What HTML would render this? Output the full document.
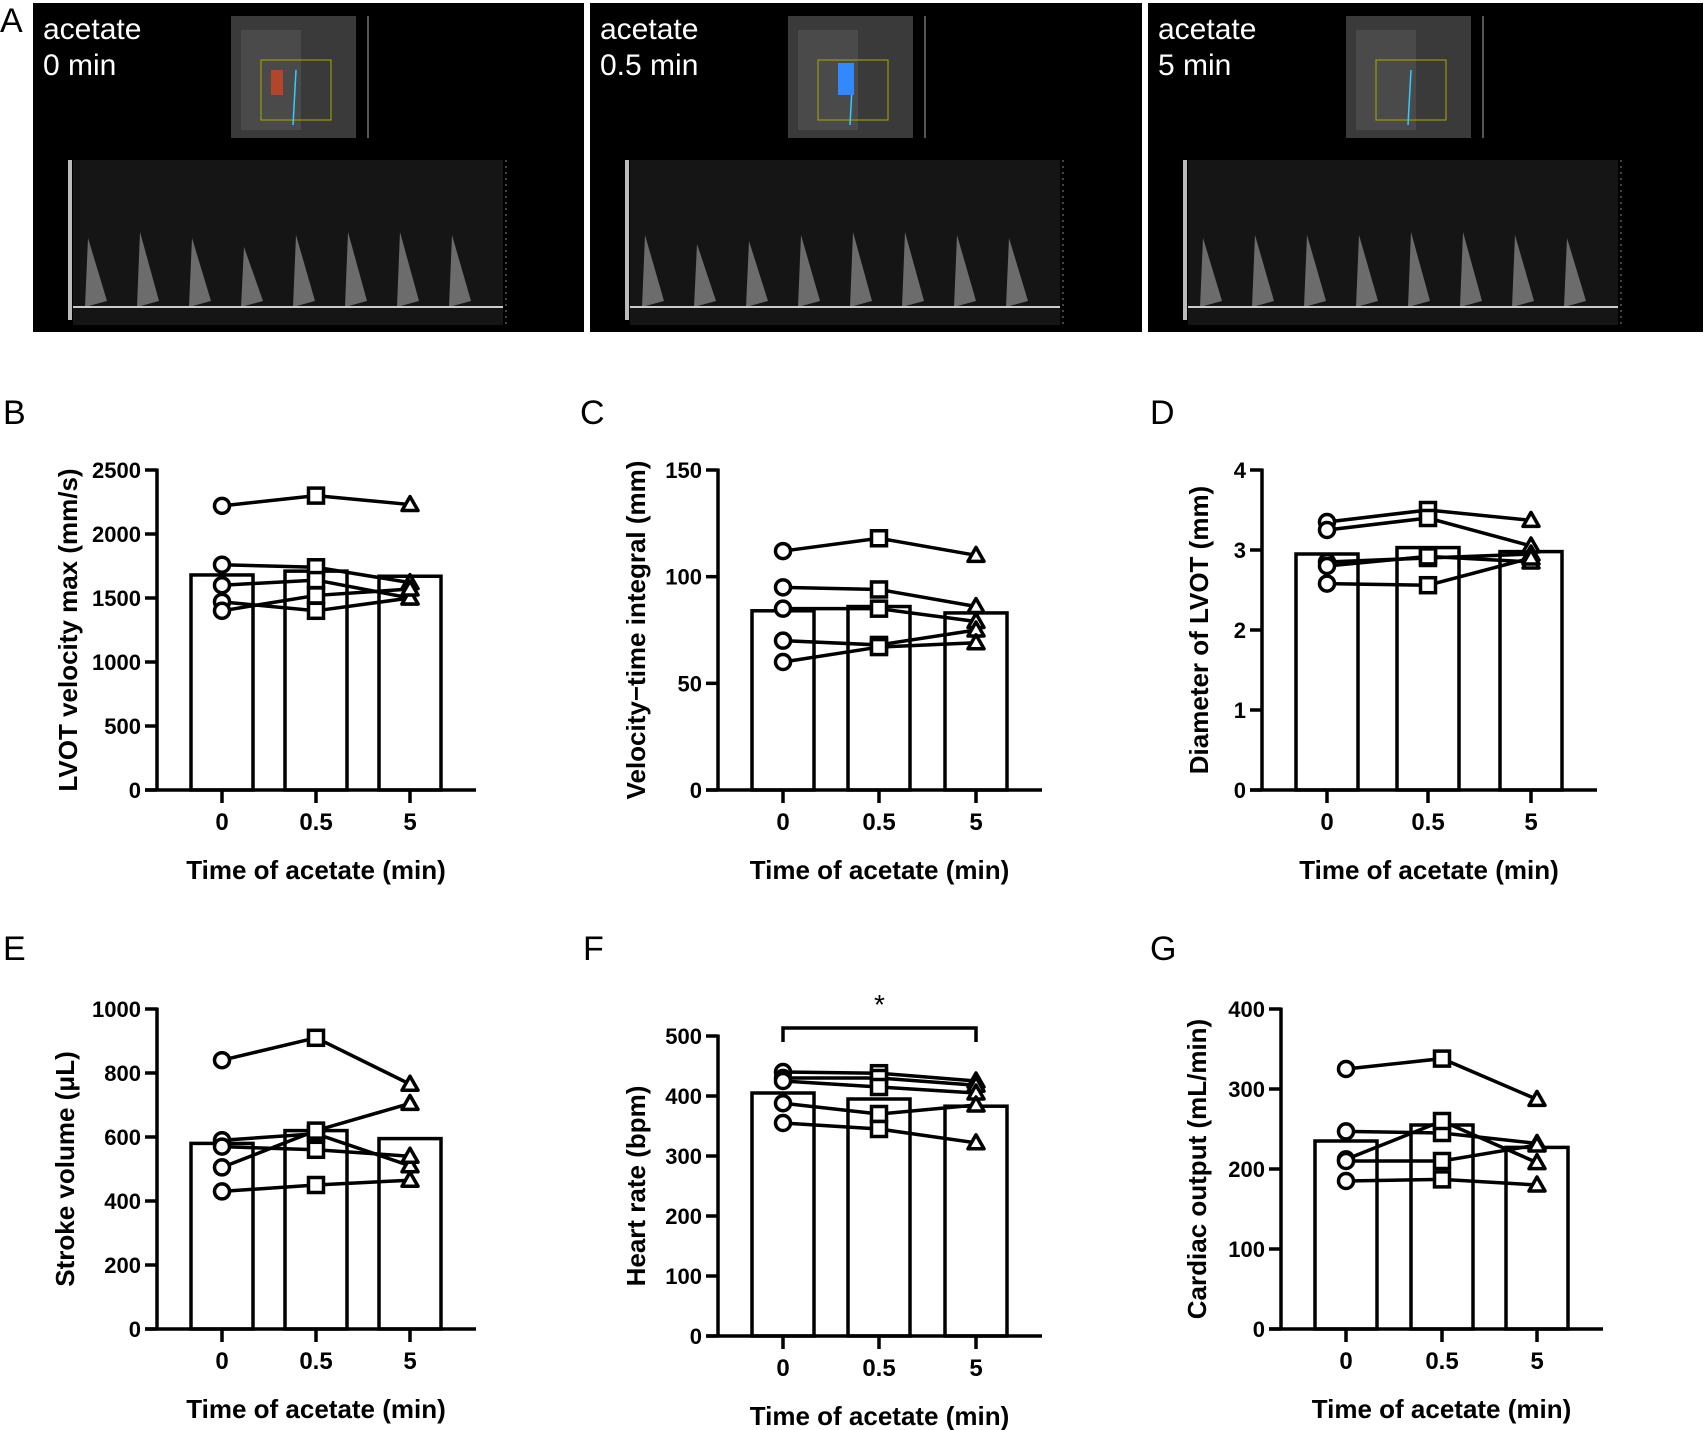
<!DOCTYPE html>
<html><head><meta charset="utf-8">
<style>
html,body{margin:0;padding:0;background:#fff;}
svg{display:block;}
text{font-family:"Liberation Sans",Arial,sans-serif;}
</style></head>
<body>
<svg id="fig" width="1705" height="1430" viewBox="0 0 1705 1430" xmlns="http://www.w3.org/2000/svg">
<g id="panelA"></g>
<g id="charts"></g>
</svg>
<script>
// ---------- Chart data ----------
const categories = ["0", "0.5", "5"];
const bMeans = [1680, 1710, 1670];
const bSeries = [[2220,2300,2230],[1760,1740,1620],[1600,1640,1500],[1470,1400,1500],[1400,1520,1570]];
const bTicks = [0,500,1000,1500,2000,2500];
const cMeans = [84, 86, 83];
const cSeries = [[112,118,110],[95,94,86],[85,85,79],[70,68,75],[60,67,69]];
const cTicks = [0,50,100,150];
const dMeans = [2.95, 3.03, 2.98];
const dSeries = [[3.35,3.5,3.37],[3.25,3.4,3.05],[2.85,2.9,2.95],[2.8,2.92,2.85],[2.58,2.56,2.9]];
const dTicks = [0,1,2,3,4];
const eMeans = [580, 620, 595];
const eSeries = [[840,910,765],[590,610,510],[570,560,540],[505,620,705],[430,450,465]];
const eTicks = [0,200,400,600,800,1000];
const fMeans = [405, 395, 383];
const fSeries = [[440,438,425],[430,430,418],[425,415,405],[388,370,385],[355,345,322]];
const fTicks = [0,100,200,300,400,500];
const gMeans = [235, 255, 227];
const gSeries = [[325,338,287],[247,245,232],[212,260,208],[210,210,230],[185,187,180]];
const gTicks = [0,100,200,300,400];
const pulsePeaks = [[1150,1250,1150,1000,1200,1250,1250,1200],[1200,1050,1100,1200,1250,1250,1200,1150],[1150,1200,1200,1200,1250,1250,1200,1150]];

const NS = "http://www.w3.org/2000/svg";
function mk(tag, attrs, parent, txt){
  const e = document.createElementNS(NS, tag);
  for (const k in attrs) e.setAttribute(k, attrs[k]);
  if (txt !== undefined) e.textContent = txt;
  parent.appendChild(e);
  return e;
}

// ---------- Panel A ----------
const pa = document.getElementById('panelA');
const lA = mk('text',{x:0,y:32,'font-size':34,fill:'#000'},pa,'A');


const boxes = [[33,584,'0 min'],[590,1142,'0.5 min'],[1148,1703,'5 min']];
boxes.forEach((b,i)=>{
  const g = mk('g',{},pa);
  
  
  mk('rect',{x:b[0],y:3,width:b[1]-b[0],height:329,fill:'#000'},g);
  const t1 = mk('text',{x:b[0]+10,y:39,'font-size':30,fill:'#fff'},g,'acetate');
  
  
  const t2 = mk('text',{x:b[0]+10,y:75,'font-size':30,fill:'#fff'},g,b[2]);
  
  
  const ix = b[0]+198;
  mk('rect',{x:ix,y:16,width:125,height:122,fill:'#3a3a3a'},g);
  mk('rect',{x:ix+10,y:30,width:60,height:100,fill:'#555',opacity:0.6},g);
  mk('rect',{x:ix+30,y:60,width:70,height:60,fill:'none',stroke:'#aa0','stroke-width':1},g);
  mk('line',{x1:ix+65,y1:70,x2:ix+62,y2:125,stroke:'#3cf','stroke-width':1.5},g);
  if(i==0) mk('rect',{x:ix+40,y:70,width:12,height:25,fill:'#c42',opacity:0.8},g);
  if(i==1) mk('rect',{x:ix+50,y:63,width:16,height:32,fill:'#38f'},g);
  mk('line',{x1:ix+137,y1:16,x2:ix+137,y2:138,stroke:'#aaa','stroke-width':1},g);
  const sx = b[0]+40, sw = 430, base = 307, top = 160;
  mk('rect',{x:sx,y:top,width:sw,height:165,fill:'#151515'},g);
  mk('rect',{x:sx-5,y:top,width:4,height:160,fill:'#bbb'},g);
  const vy = v => base - v*(base-top)/2450;
  pulsePeaks[i].forEach((p,k)=>{
    const px = sx + 12 + k*52;
    mk('path',{d:`M${px} ${base} L${px+3} ${vy(p)} L${px+22} ${base-6} Z`,fill:'#8a8a8a',opacity:0.75},g);
  });
  mk('line',{x1:sx,y1:base,x2:sx+sw,y2:base,stroke:'#ccc','stroke-width':2},g);
  mk('line',{x1:sx+sw+3,y1:top,x2:sx+sw+3,y2:325,stroke:'#888','stroke-width':1,'stroke-dasharray':'2 4'},g);
});

// ---------- Bar/line charts ----------
const charts = document.getElementById('charts');
function chart(opt){
  const g = mk('g',{},charts);
  
  
  const cx = opt.cats;
  const ax = cx[0]-65, axEnd = cx[2]+66;
  const yMax = opt.ticks[opt.ticks.length-1];
  const Y = v => opt.y0 - v*(opt.y0-opt.yTop)/yMax;
  const X = i => cx[i];
  const lab = mk('text',{x:opt.lx,y:opt.ly,'font-size':34,fill:'#000'},g,opt.letter);
  
  
  opt.means.forEach((m,i)=>{
    const r = mk('rect',{x:X(i)-31,y:Y(m),width:62,height:opt.y0-Y(m),fill:'#fff',stroke:'#000','stroke-width':3.5},g);
    
    
  });
  const ya = mk('line',{x1:ax,y1:Y(yMax)-1.5,x2:ax,y2:opt.y0,stroke:'#000','stroke-width':3.5},g);
  
  
  const xa = mk('line',{x1:ax-12,y1:opt.y0,x2:axEnd,y2:opt.y0,stroke:'#000','stroke-width':3.5},g);
  
  
  opt.ticks.forEach(t=>{
    mk('line',{x1:ax-12,y1:Y(t),x2:ax,y2:Y(t),stroke:'#000','stroke-width':3.5},g);
    const tl = mk('text',{x:ax-16,y:Y(t)+8,'font-size':22,'font-weight':'bold','text-anchor':'end'},g,String(t));
    
    
  });
  categories.forEach((c,i)=>{
    mk('line',{x1:X(i),y1:opt.y0,x2:X(i),y2:opt.y0+13,stroke:'#000','stroke-width':3.5},g);
    const tl = mk('text',{x:X(i),y:opt.y0+40,'font-size':24,'font-weight':'bold','text-anchor':'middle'},g,c);
    
    
  });
  const xt = mk('text',{x:(cx[0]+cx[2])/2,y:opt.y0+89,'font-size':26,'font-weight':'bold','text-anchor':'middle'},g,'Time of acetate (min)');
  
  
  const ymid = (opt.y0+Y(yMax))/2;
  const yt = mk('text',{x:opt.ytx,y:ymid,'font-size':26,'font-weight':'bold','text-anchor':'middle',transform:`rotate(-90 ${opt.ytx} ${ymid})`,'dominant-baseline':'middle'},g,opt.ytitle);
  
  
  opt.series.forEach((s,k)=>{
    const sg = mk('g',{},g);
    
    
    mk('polyline',{points:s.map((v,i)=>X(i)+','+Y(v)).join(' '),fill:'none',stroke:'#000','stroke-width':3.5},sg);
    const c = mk('circle',{cx:X(0),cy:Y(s[0]),r:7.5,fill:'#fff',stroke:'#000','stroke-width':3.5},sg);
    
    
    const q = mk('rect',{x:X(1)-7.5,y:Y(s[1])-7.5,width:15,height:15,fill:'#fff',stroke:'#000','stroke-width':3.5},sg);
    
    
    const tx = X(2), ty = Y(s[2]);
    const tr = mk('path',{d:`M${tx} ${ty-8} L${tx+8} ${ty+6} L${tx-8} ${ty+6} Z`,fill:'#fff',stroke:'#000','stroke-width':3.5,'stroke-linejoin':'round'},sg);
    
    
  });
  if (opt.sig){
    const by = opt.yTop - 8;
    const br = mk('path',{d:`M${X(0)} ${by+14} L${X(0)} ${by} L${X(2)} ${by} L${X(2)} ${by+14}`,fill:'none',stroke:'#000','stroke-width':3.5},g);
    
    
    const st = mk('text',{x:(X(0)+X(2))/2,y:by-14,'font-size':28,'text-anchor':'middle'},g,'*');
    
    
  }
}
chart({name:'chart-b-lvot-velocity',letter:'B',lx:3,ly:424,cats:[222,316,410],y0:790,yTop:470,ticks:bTicks,means:bMeans,series:bSeries,ytitle:'LVOT velocity max (mm/s)',ytx:70});
chart({name:'chart-c-vti',letter:'C',lx:580,ly:424,cats:[783,879,976],y0:790,yTop:470,ticks:cTicks,means:cMeans,series:cSeries,ytitle:'Velocity\u2212time integral (mm)',ytx:638});
chart({name:'chart-d-lvot-diameter',letter:'D',lx:1150,ly:424,cats:[1327,1428,1531],y0:790,yTop:470,ticks:dTicks,means:dMeans,series:dSeries,ytitle:'Diameter of LVOT (mm)',ytx:1201});
chart({name:'chart-e-stroke-volume',letter:'E',lx:3,ly:960,cats:[222,316,410],y0:1329,yTop:1009,ticks:eTicks,means:eMeans,series:eSeries,ytitle:'Stroke volume (\u03bcL)',ytx:67});
chart({name:'chart-f-heart-rate',letter:'F',lx:583,ly:960,cats:[783,879,976],y0:1336,yTop:1036,ticks:fTicks,means:fMeans,series:fSeries,ytitle:'Heart rate (bpm)',ytx:638,sig:true});
chart({name:'chart-g-cardiac-output',letter:'G',lx:1150,ly:960,cats:[1346,1442,1537],y0:1329,yTop:1009,ticks:gTicks,means:gMeans,series:gSeries,ytitle:'Cardiac output (mL/min)',ytx:1199});
</script>
</body></html>
